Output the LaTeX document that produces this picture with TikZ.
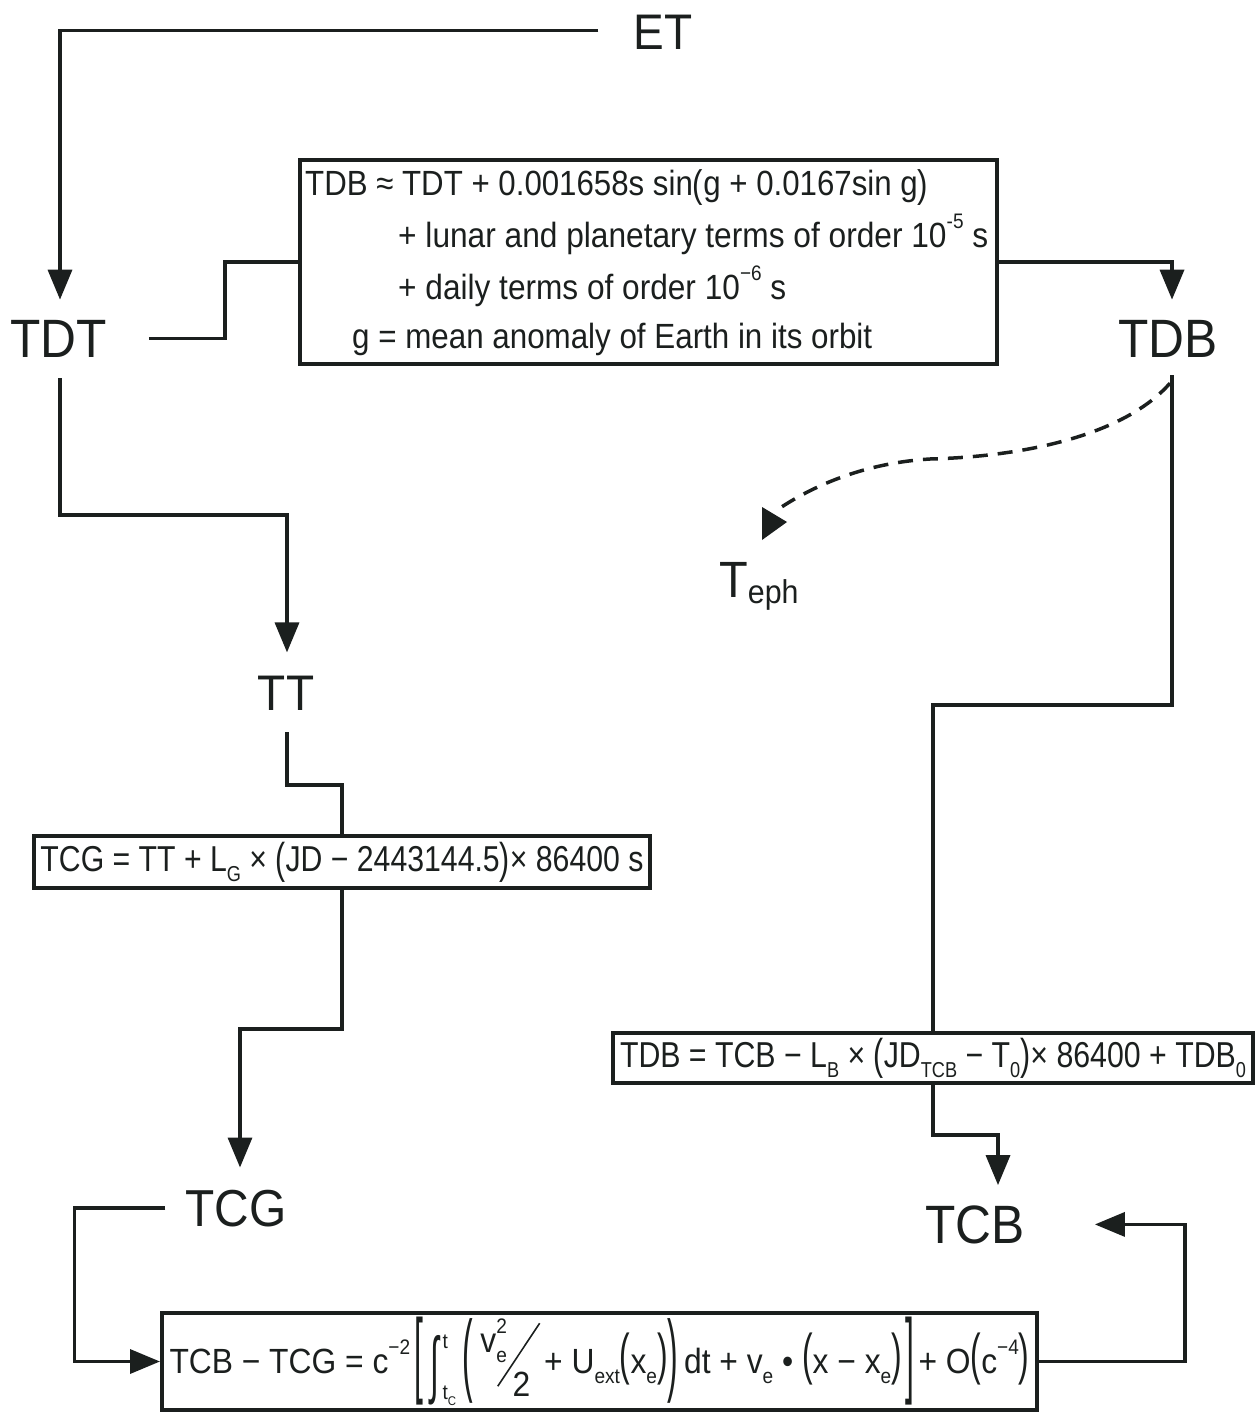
\documentclass[tikz,border=0pt]{standalone}
\usepackage{fontspec}
\setmainfont[FakeStretch=0.92]{Liberation Sans}
\usepackage{graphicx}
\usetikzlibrary{arrows.meta}
\definecolor{ink}{RGB}{27,31,30}
\newcommand\lsub[1]{\raisebox{-0.28em}{\scalebox{0.6}{#1}}}
\newcommand\lsup[1]{\raisebox{0.55em}{\scalebox{0.6}{#1}}}
\newcommand\lsubsup[2]{\rlap{\lsub{#1}}\lsup{#2}}
\newcommand\intlims[2]{\rlap{\raisebox{0.72em}{\scalebox{0.6}{#1}}}\raisebox{-0.75em}{\scalebox{0.6}{#2}}}
\newcommand\tall[3]{\raisebox{#2}{\scalebox{1}[#1]{#3}}}
\newcommand\fitw[2]{\resizebox{#1}{\height}{#2}}
\begin{document}
\begin{tikzpicture}[x=1pt,y=-1pt,
  conn/.style={line width=3.5pt, draw=ink},
  tipped/.style={-{Triangle[length=30pt,width=24pt]}},
  biglbl/.style={inner sep=0pt, text=ink, anchor=base},
  boxA/.style={draw=ink, line width=4pt, inner sep=0pt, text=ink},
  boxtext/.style={inner sep=0pt, text=ink, anchor=base west, font=\fontsize{35}{40}\selectfont}]
\useasboundingbox (0,0) rectangle (1259,1412);

% labels
\node[biglbl, font=\fontsize{50}{55}\selectfont] (ET) at (663,50) {ET};
\node[biglbl, font=\fontsize{54}{60}\selectfont] (TDT) at (58.5,357) {TDT};
\node[biglbl, font=\fontsize{54}{60}\selectfont] (TDB) at (1168,357) {TDB};
\node[biglbl, font=\fontsize{50}{55}\selectfont] (TT) at (286,710) {TT};
\node[biglbl, font=\fontsize{52}{58}\selectfont] (TCG) at (236,1226) {TCG};
\node[biglbl, font=\fontsize{54}{58}\selectfont] (TCB) at (975,1243) {TCB};
\node[inner sep=0pt, text=ink, anchor=base west, font=\fontsize{51}{55}\selectfont] (Teph) at (719,597)
  {T\raisebox{-6pt}{\fontsize{33}{33}\selectfont eph}};

% box 1
\node[boxA, minimum width=697pt, minimum height=204pt] (box1) at (648.5,262) {};
\node[boxtext] (l1) at (305,196) {\fitw{623pt}{TDB ≈ TDT + 0.001658s sin\tall{1.1}{-0.03em}{(}g + 0.0167sin g\tall{1.1}{-0.03em}{)}}};
\node[boxtext] (l2) at (398,248) {\fitw{590pt}{+ lunar and planetary terms of order 10\lsup{-5} s}};
\node[boxtext] (l3) at (398,300) {\fitw{388pt}{+ daily terms of order 10\lsup{−6} s}};
\node[boxtext] (l4) at (352,348) {\fitw{520pt}{g = mean anomaly of Earth in its orbit}};

% box 2
\node[boxA, minimum width=616pt, minimum height=52pt, font=\fontsize{36}{40}\selectfont] (box2) at (342,862)
  {\fitw{603pt}{TCG = TT + L\lsub{G} × \tall{1.2}{-0.06em}{(}JD − 2443144.5\tall{1.2}{-0.06em}{)}× 86400 s}};

% box 3
\node[boxA, minimum width=640pt, minimum height=50pt, font=\fontsize{36}{40}\selectfont] (box3) at (933,1058)
  {\fitw{626pt}{TDB = TCB − L\lsub{B} × \tall{1.2}{-0.06em}{(}JD\lsub{TCB} − T\lsub{0}\tall{1.2}{-0.06em}{)}× 86400 + TDB\lsub{0}}};

% box 4
\node[boxA, minimum width=875pt, minimum height=97pt, font=\fontsize{35}{40}\selectfont] (box4) at (599.5,1361.5)
  {\fitw{860pt}{TCB − TCG = c\lsup{−2}\hspace{4pt}\tall{2.7}{-0.34em}{[}\hspace{8pt}\tall{2.1}{-0.45em}{∫}\hspace{3pt}\intlims{t}{t\lsub{C}}\hspace{6pt}\tall{2.6}{-0.32em}{(}\hspace{8pt}\raisebox{0.6em}{v\lsubsup{e}{2}}\hspace{-10pt}\raisebox{-13pt}{\rotatebox{56}{\rule{76pt}{1.6pt}}}\hspace{-28pt}\raisebox{-0.65em}{2}\hspace{14pt}+ U\lsub{ext}\tall{1.6}{0em}{(}x\lsub{e}\tall{1.6}{0em}{)}\tall{2.6}{-0.32em}{)}\hspace{6pt}dt + v\lsub{e} • \tall{1.6}{0em}{(}x − x\lsub{e}\tall{1.6}{0em}{)}\hspace{4pt}\tall{2.7}{-0.34em}{]}\hspace{4pt}+ O\tall{1.6}{0em}{(}c\lsup{−4}\tall{1.6}{0em}{)}}};

% connectors
\draw[conn,tipped] ([xshift=-35pt,yshift=2.5pt]ET.west) -| ([xshift=1.5pt,yshift=20pt]TDT.north);
\draw[conn] ([xshift=42pt]TDT.east) -- ++(76,0) |- (box1.west);
\draw[conn,tipped] (box1.east) -| ([xshift=4pt,yshift=20pt]TDB.north);
\draw[conn] ([xshift=4pt,yshift=-18pt]TDB.south) -- ++(0,330) -| (box3.north);
\coordinate (ephend) at (780,508);
\draw[conn, dash pattern=on 15pt off 10pt] ([xshift=2pt,yshift=-26pt]TDB.south)
  .. controls (1120,440) and (1010,457) .. (930,459)
  .. controls (865,463) and (815,485) .. (ephend);
\fill[ink] (762,507) -- (762,540) -- (787,522) -- cycle;
\draw[conn,tipped] ([xshift=1.5pt,yshift=-21pt]TDT.south) -- ++(0,137) -| ([xshift=1pt,yshift=23pt]TT.north);
\draw[conn] ([xshift=1pt,yshift=-22pt]TT.south) -- ++(0,53) -| (box2.north);
\draw[conn,tipped] (box2.south) -- ++(0,139) -| ([xshift=4pt,yshift=22pt]TCG.north);
\draw[conn,tipped] ([xshift=-20pt]TCG.west) -- ++(-91,0) |- (box4.west);
\draw[conn,tipped] (box3.south) -- ++(0,50) -| ([xshift=23pt,yshift=20pt]TCB.north);
\draw[conn,tipped] (box4.east) -- ++(146,0) |- ([xshift=70pt]TCB.east);
\end{tikzpicture}
\end{document}
